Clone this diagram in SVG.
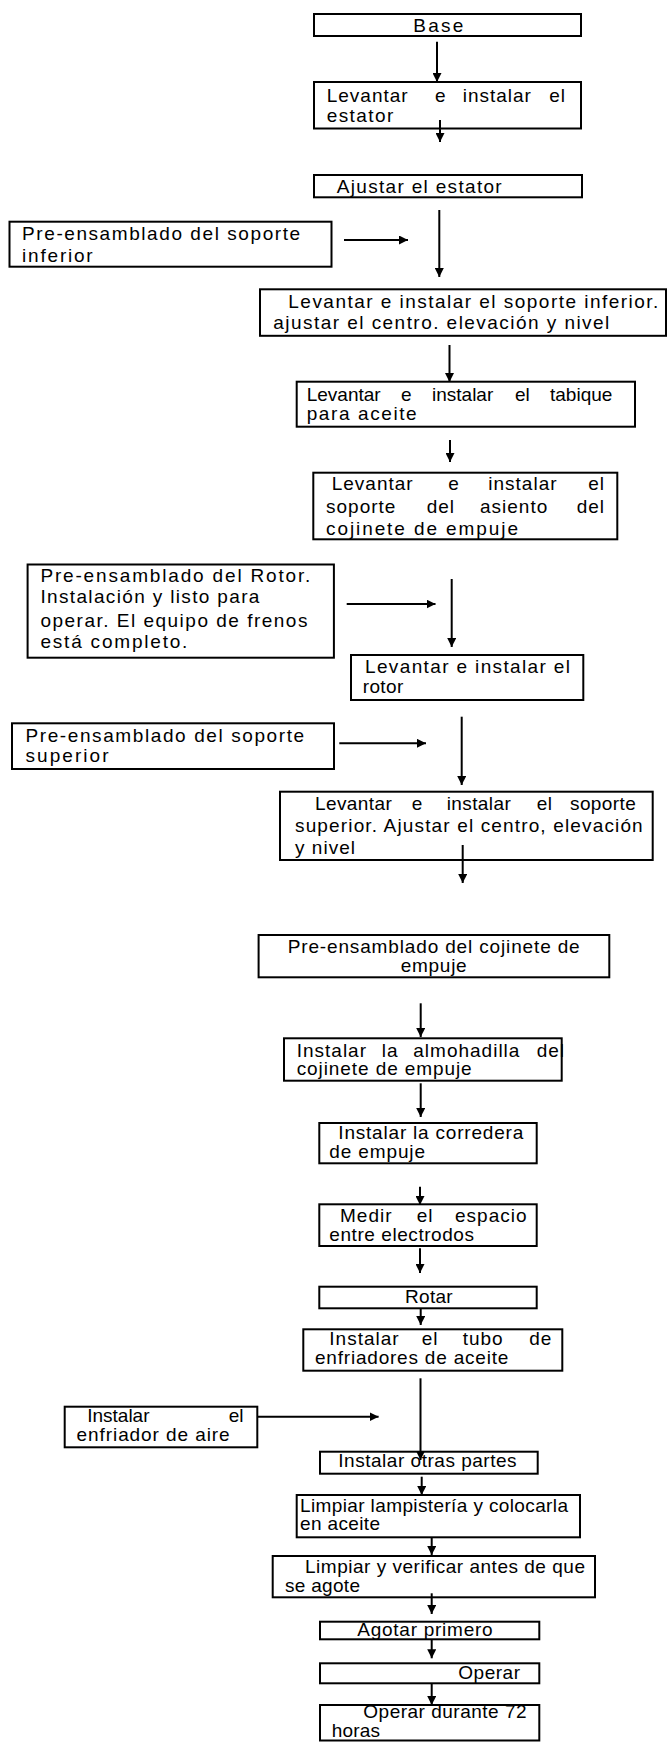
<svg xmlns="http://www.w3.org/2000/svg" width="667" height="1742" viewBox="0 0 667 1742">
<defs>
<marker id="ah" viewBox="0 0 10 10" refX="10" refY="5" markerWidth="9" markerHeight="9" markerUnits="userSpaceOnUse" orient="auto"><path d="M0,0 L10,5 L0,10 z" fill="#000"/></marker>
<style>
.box{fill:#fff;stroke:#000;stroke-width:2}
text{font-family:"Liberation Sans",Arial,sans-serif;font-size:19px;fill:#000}
.j{letter-spacing:1px}
.j0{letter-spacing:0.4px}
.c line{stroke:#000;stroke-width:2;marker-end:url(#ah)}
</style>
</defs>
<rect width="667" height="1742" fill="#fff"/>
<g id="n1"><rect class="box" x="314" y="14" width="267" height="22"/><text x="413.3" y="32" textLength="50">Base</text></g>
<g id="n2"><rect class="box" x="314" y="82" width="267" height="46.5"/><text y="101.7" class="j"><tspan x="326.7">Levantar</tspan><tspan x="435">e</tspan><tspan x="462.7">instalar</tspan><tspan x="549.3">el</tspan></text><text x="326.7" y="121.7" textLength="66.6">estator</text></g>
<g id="n3"><rect class="box" x="314" y="175" width="268" height="22.3"/><text x="336.7" y="192.7" textLength="165">Ajustar el estator</text></g>
<g id="l1"><rect class="box" x="9.5" y="221.7" width="322" height="45"/><text x="22.1" y="240" textLength="278">Pre-ensamblado del soporte</text><text x="22.1" y="261.5" textLength="70.6">inferior</text></g>
<g id="n4"><rect class="box" x="260" y="289.3" width="406" height="46.5"/><text x="288.3" y="308" textLength="370">Levantar e instalar el soporte inferior.</text><text x="273.3" y="329" textLength="336">ajustar el centro. elevación y nivel</text></g>
<g id="n5"><rect class="box" x="296.7" y="381.7" width="338.3" height="45"/><text y="400.7"><tspan x="306.7">Levantar</tspan><tspan x="401">e</tspan><tspan x="432">instalar</tspan><tspan x="515">el</tspan><tspan x="550">tabique</tspan></text><text x="306.7" y="420" textLength="110">para aceite</text></g>
<g id="n6"><rect class="box" x="313.3" y="472.7" width="304" height="66.6"/><text y="490" class="j"><tspan x="331.7">Levantar</tspan><tspan x="448.3">e</tspan><tspan x="488.3">instalar</tspan><tspan x="588.3">el</tspan></text><text y="512.7" class="j"><tspan x="326">soporte</tspan><tspan x="426.7">del</tspan><tspan x="480">asiento</tspan><tspan x="576.7">del</tspan></text><text x="326" y="535" textLength="192">cojinete de empuje</text></g>
<g id="l2"><rect class="box" x="27.6" y="564.5" width="306.3" height="93.2"/><text x="40.4" y="581.7" textLength="270">Pre-ensamblado del Rotor.</text><text x="40.4" y="603.3" textLength="219">Instalación y listo para</text><text x="40.4" y="626.7" textLength="267">operar. El equipo de frenos</text><text x="40.4" y="648.3" textLength="147">está completo.</text></g>
<g id="n7"><rect class="box" x="351" y="655" width="232.3" height="45"/><text x="365" y="673.3" textLength="205">Levantar e instalar el</text><text x="362.7" y="693.3" textLength="40.6">rotor</text></g>
<g id="l3"><rect class="box" x="12" y="723.3" width="322" height="45.7"/><text x="25.5" y="741.7" textLength="278.6">Pre-ensamblado del soporte</text><text x="25.5" y="761.7" textLength="83">superior</text></g>
<g id="n8"><rect class="box" x="280" y="791.7" width="372.7" height="68.3"/><text y="810" class="j0"><tspan x="315">Levantar</tspan><tspan x="411.7">e</tspan><tspan x="446.7">instalar</tspan><tspan x="536.7">el</tspan><tspan x="570">soporte</tspan></text><text x="295" y="831.7" textLength="347.7">superior. Ajustar el centro, elevación</text><text x="295" y="854" textLength="60">y nivel</text></g>
<g id="n9"><rect class="box" x="258.6" y="935" width="350.7" height="42.3"/><text x="433.7" y="953.3" text-anchor="middle" textLength="292">Pre-ensamblado del cojinete de</text><text x="433.7" y="971.7" text-anchor="middle" textLength="66">empuje</text></g>
<g id="n10"><rect class="box" x="284" y="1038.3" width="277.7" height="42.4"/><text y="1056.7" class="j"><tspan x="296.7">Instalar</tspan><tspan x="381.7">la</tspan><tspan x="413.3">almohadilla</tspan><tspan x="536.7">del</tspan></text><text x="296.7" y="1075" textLength="175">cojinete de empuje</text></g>
<g id="n11"><rect class="box" x="319.3" y="1123" width="217.4" height="40.3"/><text x="338.3" y="1139.3" textLength="185">Instalar la corredera</text><text x="329.3" y="1158.3" textLength="95.7">de empuje</text></g>
<g id="n12"><rect class="box" x="319.3" y="1204.3" width="217.4" height="41.7"/><text y="1221.7" class="j"><tspan x="340">Medir</tspan><tspan x="416.7">el</tspan><tspan x="455">espacio</tspan></text><text x="329.3" y="1240.7" textLength="144.7">entre electrodos</text></g>
<g id="n13"><rect class="box" x="319.3" y="1286.7" width="217.4" height="21.6"/><text x="405" y="1303.3" textLength="47.7">Rotar</text></g>
<g id="n14"><rect class="box" x="303.3" y="1329.3" width="259" height="41.4"/><text y="1345" class="j"><tspan x="329.3">Instalar</tspan><tspan x="421.7">el</tspan><tspan x="462.7">tubo</tspan><tspan x="529.3">de</tspan></text><text x="315" y="1364" textLength="193.3">enfriadores de aceite</text></g>
<g id="l4"><rect class="box" x="64.7" y="1406.7" width="192.6" height="40.6"/><text y="1421.7"><tspan x="87.2">Instalar</tspan><tspan x="228.8">el</tspan></text><text x="76.6" y="1440.7" textLength="153">enfriador de aire</text></g>
<g id="n15"><rect class="box" x="320" y="1451.7" width="217.7" height="22"/><text x="338.3" y="1467.3" textLength="178.3">Instalar otras partes</text></g>
<g id="n16"><rect class="box" x="296.7" y="1495" width="283.3" height="42.3"/><text x="300" y="1511.7" textLength="268">Limpiar lampistería y colocarla</text><text x="300" y="1530" textLength="80">en aceite</text></g>
<g id="n17"><rect class="box" x="272.7" y="1556" width="322.3" height="41.3"/><text x="305" y="1573.3" textLength="280">Limpiar y verificar antes de que</text><text x="285" y="1591.7" textLength="75">se agote</text></g>
<g id="n18"><rect class="box" x="320" y="1621.7" width="219.3" height="17.6"/><text x="357.3" y="1635.5" textLength="135.3">Agotar primero</text></g>
<g id="n19"><rect class="box" x="320" y="1663.3" width="219.3" height="20"/><text x="458.3" y="1679.3" textLength="61.7">Operar</text></g>
<g id="n20"><rect class="box" x="320" y="1705" width="219.3" height="35.5"/><text x="363.3" y="1718.3" textLength="163.3">Operar durante 72</text><text x="331.7" y="1736.7" textLength="48.3">horas</text></g>
<g id="connectors" class="c">
<line x1="437" y1="41.7" x2="437" y2="82"/>
<line x1="440" y1="120" x2="440" y2="142"/>
<line x1="439.3" y1="210" x2="439.3" y2="277"/>
<line x1="344" y1="240" x2="408" y2="240"/>
<line x1="449.5" y1="345" x2="449.5" y2="382"/>
<line x1="450" y1="440" x2="450" y2="462"/>
<line x1="346.7" y1="604" x2="435.5" y2="604"/>
<line x1="451.7" y1="579" x2="451.7" y2="647"/>
<line x1="339.3" y1="743.3" x2="426" y2="743.3"/>
<line x1="461.7" y1="716.7" x2="461.7" y2="785"/>
<line x1="462.7" y1="845" x2="462.7" y2="883"/>
<line x1="420.7" y1="1003.3" x2="420.7" y2="1037"/>
<line x1="420.7" y1="1083.3" x2="420.7" y2="1117"/>
<line x1="420" y1="1186.7" x2="420" y2="1205"/>
<line x1="420" y1="1248.3" x2="420" y2="1273"/>
<line x1="420.7" y1="1308.3" x2="420.7" y2="1325"/>
<line x1="420.5" y1="1378.3" x2="420.5" y2="1460"/>
<line x1="257.3" y1="1416.7" x2="378.6" y2="1416.7"/>
<line x1="421.7" y1="1476.7" x2="421.7" y2="1495"/>
<line x1="431.7" y1="1537.3" x2="431.7" y2="1555"/>
<line x1="431.7" y1="1593.3" x2="431.7" y2="1614"/>
<line x1="431.7" y1="1639.3" x2="431.7" y2="1658.3"/>
<line x1="431.7" y1="1683.3" x2="431.7" y2="1705"/>
</g>
</svg>
